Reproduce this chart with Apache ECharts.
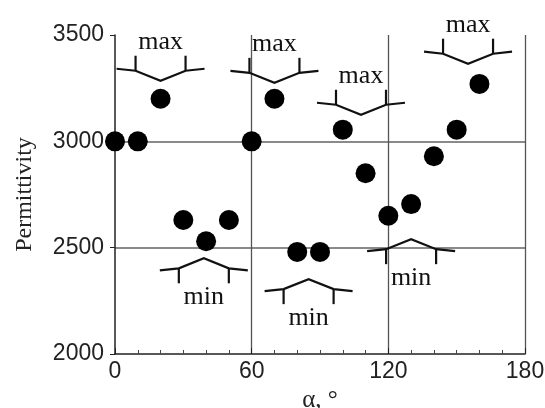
<!DOCTYPE html>
<html lang="en">
  <head>
    <meta charset="UTF-8" />
    <title>Permittivity vs angle</title>
    <script src="https://cdn.jsdelivr.net/npm/echarts@6/dist/echarts.min.js"></script>
    <style>
      html, body { margin: 0; padding: 0; background: #fff; }
      #main { width: 545px; height: 408px; }
    </style>
  </head>
  <body>
    <div id="main"></div>
    <script>
      // measured points
      var alpha = [0, 10, 20, 30, 40, 50, 60, 70, 80, 90, 100, 110, 120, 130, 140, 150, 160];
      var permittivity = [3000, 3000, 3200, 2630, 2530, 2630, 3000, 3200, 2480, 2480, 3055, 2850, 2650, 2705, 2930, 3055, 3270];

      // max / min bracket annotations (vertex position)
      var maxAlpha = [20, 70, 108, 155];
      var maxLevel = [3285, 3275, 3125, 3365];
      var minAlpha = [39, 85, 130];
      var minLevel = [2450, 2352, 2540];

      var xTicks = [0, 60, 120, 180];
      var yTicks = [2000, 2500, 3000, 3500];

      var brackets = [];
      for (var i = 0; i < maxAlpha.length; i++) brackets.push([maxAlpha[i], maxLevel[i], -1]);
      for (var j = 0; j < minAlpha.length; j++) brackets.push([minAlpha[j], minLevel[j], 1]);

      function renderBracket(params, api) {
        var p = api.coord([api.value(0), api.value(1)]);
        var s = api.value(2); // -1: max (drawn above), 1: min (drawn below)
        var x = p[0], y = p[1];
        var stroke = { stroke: "#111", lineWidth: 2.2, fill: null };
        return {
          type: "group",
          children: [
            {
              type: "polyline",
              shape: {
                points: [
                  [x - 44, y + s * 12],
                  [x - 25, y + s * 10],
                  [x, y],
                  [x + 25, y + s * 10],
                  [x + 44, y + s * 12]
                ]
              },
              style: stroke
            },
            { type: "line", shape: { x1: x - 25, y1: y + s * 10, x2: x - 25, y2: y + s * 25 }, style: stroke },
            { type: "line", shape: { x1: x + 25, y1: y + s * 10, x2: x + 25, y2: y + s * 25 }, style: stroke },
            {
              type: "text",
              style: {
                text: s < 0 ? "max" : "min",
                x: x,
                y: y + s * 39,
                fill: "#111",
                font: '26px "Liberation Serif"',
                align: "center",
                verticalAlign: "middle"
              }
            }
          ]
        };
      }

      var chart = echarts.init(document.getElementById("main"));
      var option = {
        backgroundColor: "#fff",
        animation: false,
        grid: { left: 115, right: 20, top: 35, bottom: 54, outerBoundsMode: "none" },
        xAxis: {
          type: "value",
          min: xTicks[0],
          max: xTicks[xTicks.length - 1],
          interval: 60,
          name: "α, °",
          nameLocation: "middle",
          nameGap: 32,
          nameTextStyle: { fontFamily: "Liberation Serif", fontSize: 25, color: "#222" },
          axisLine: { lineStyle: { color: "#222", width: 1.5 } },
          axisTick: { inside: true, length: 6, lineStyle: { color: "#222" } },
          minorTick: { show: true, splitNumber: 6, length: 4, lineStyle: { color: "#444" } },
          axisLabel: { fontFamily: "Liberation Sans", fontSize: 23, color: "#222", margin: 6 },
          splitLine: { show: true, showMinLine: false, lineStyle: { color: "#555", width: 1.3 } }
        },
        yAxis: {
          type: "value",
          min: yTicks[0],
          max: yTicks[yTicks.length - 1],
          interval: 500,
          name: "Permittivity",
          nameLocation: "middle",
          nameGap: 78,
          nameTextStyle: { fontFamily: "Liberation Serif", fontSize: 24, color: "#222" },
          axisLine: { show: true, lineStyle: { color: "#222", width: 1.5 } },
          axisTick: { show: true, inside: false, length: 5, lineStyle: { color: "#222" } },
          axisLabel: {
            fontFamily: "Liberation Sans",
            fontSize: 23,
            color: "#222",
            margin: 11,
            formatter: function (v) { return String(v); }
          },
          splitLine: { show: true, showMinLine: false, showMaxLine: false, lineStyle: { color: "#8a8a8a", width: 2 } }
        },
        series: [
          {
            type: "scatter",
            data: alpha.map(function (a, k) { return [a, permittivity[k]]; }),
            symbol: "circle",
            symbolSize: 20,
            itemStyle: { color: "#000", opacity: 1 },
            clip: false
          },
          {
            type: "custom",
            data: brackets,
            renderItem: renderBracket,
            clip: false,
            silent: true
          }
        ]
      };
      chart.setOption(option);
    </script>
  </body>
</html>
